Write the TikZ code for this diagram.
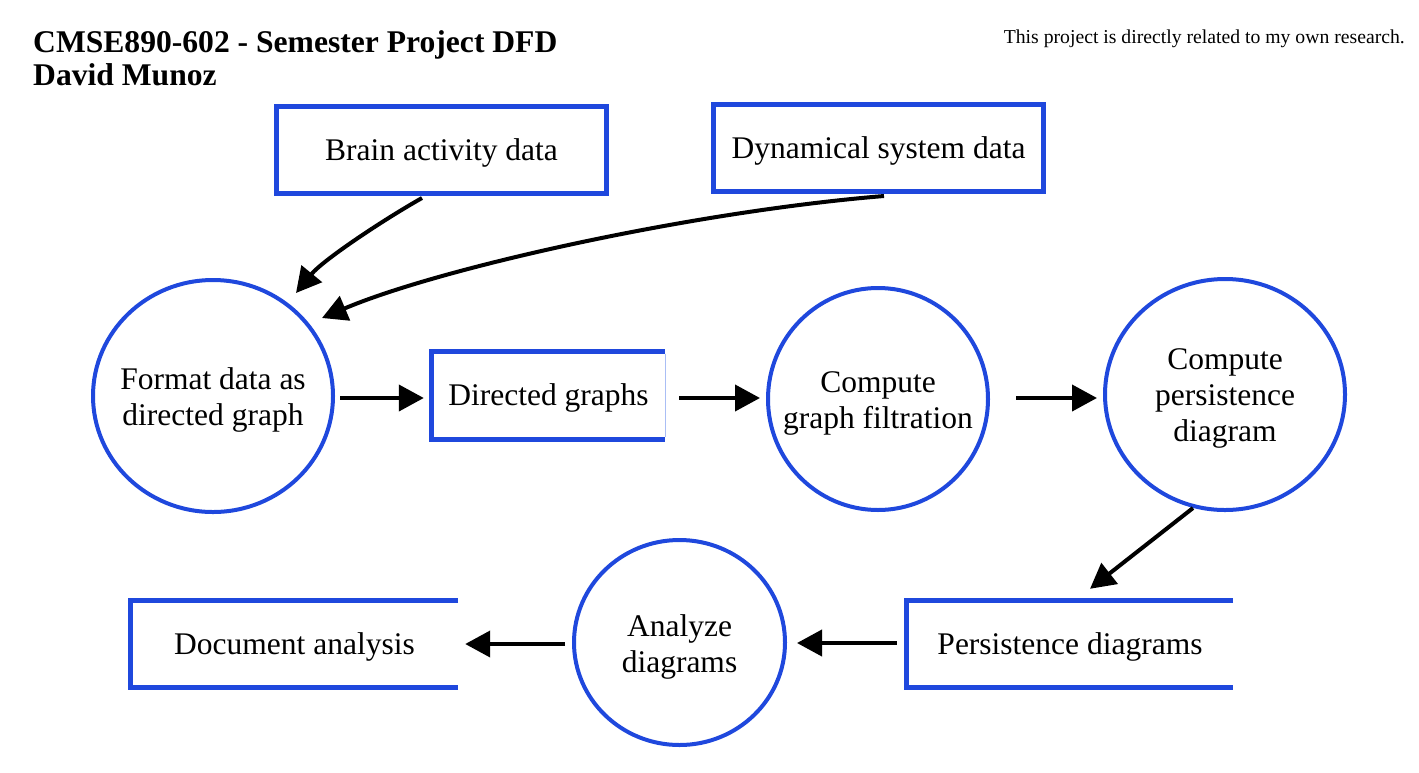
\documentclass[tikz,border=0pt]{standalone}
\usepackage{fontspec}
\setmainfont{Liberation Serif}
\usetikzlibrary{arrows.meta,shapes.geometric}
\definecolor{dfdblue}{RGB}{31,72,221}
\definecolor{lightblue}{RGB}{170,190,245}
\tikzset{
  txt/.style={font=\fontsize{31.5}{36}\selectfont, align=center, text=black},
  store/.style={txt, draw=dfdblue, line width=5pt, rectangle, inner sep=0pt, text height=27.5pt, text depth=6.8pt},
  openstore/.style={txt, rectangle, inner sep=0pt, text height=27.5pt, text depth=6.8pt},
  proc/.style={draw=dfdblue, line width=4pt, ellipse, inner sep=0pt, outer sep=0pt},
  proctext/.style={txt, inner sep=0pt, yshift=-4pt},
  flow/.style={line width=4pt, -{Triangle[length=25pt,width=26pt]}},
}
\begin{document}
\begin{tikzpicture}[x=1pt,y=-1pt]
\useasboundingbox (0,0) rectangle (1419,772);
\fill[white] (0,0) rectangle (1419,772);

% titles
\node[anchor=base west, inner sep=0pt, font=\fontsize{31.6}{36}\selectfont\bfseries] (t1) at (33,52) {CMSE890-602 - Semester Project DFD};
\node[anchor=base west, inner sep=0pt, font=\fontsize{31.6}{36}\selectfont\bfseries] (t2) at (33,85) {David Munoz};
\node[anchor=base east, inner sep=0pt, font=\fontsize{19.7}{24}\selectfont] (note) at (1405,43) {This project is directly related to my own research.};

% external stores
\node[store, minimum width=330pt, minimum height=87pt] (brain) at (441.5,150) {Brain activity data};
\node[store, minimum width=330pt, minimum height=87pt] (dyn) at (878.5,148) {Dynamical system data};

% processes
\node[proc, minimum width=240pt, minimum height=232pt] (fmt) at (213,396) {};
\node[proctext] (fmtt) at (fmt.center) {Format data as\\directed graph};
\node[proc, minimum width=220pt, minimum height=222pt] (filt) at (878,399) {};
\node[proctext] (filtt) at (filt.center) {Compute\\graph filtration};
\node[proc, minimum width=240pt, minimum height=231pt] (pers) at (1225,394.5) {};
\node[proctext] (perst) at (pers.center) {Compute\\persistence\\diagram};
\node[proc, minimum width=211pt, minimum height=205pt] (ana) at (679.5,642.5) {};
\node[proctext] (anat) at (ana.center) {Analyze\\diagrams};

% data stores (open on the right)
\node[openstore, minimum width=233pt, minimum height=88pt] (dg) at (548.5,395.5) {Directed graphs};
\draw[dfdblue, line width=5pt] (dg.north east) -- (dg.north west) -- (dg.south west) -- (dg.south east);
\draw[lightblue, line width=1pt] ([yshift=-2.5pt]dg.north east) -- ([yshift=2.5pt]dg.south east);

\node[openstore, minimum width=327pt, minimum height=87pt] (doc) at (294.5,644) {Document analysis};
\draw[dfdblue, line width=5pt] (doc.north east) -- (doc.north west) -- (doc.south west) -- (doc.south east);

\node[openstore, minimum width=326pt, minimum height=87pt] (pd) at (1070,644) {Persistence diagrams};
\draw[dfdblue, line width=5pt] (pd.north east) -- (pd.north west) -- (pd.south west) -- (pd.south east);

% connector end points
\coordinate (bs) at (422,198);
\coordinate (be) at (296,293);
\coordinate (ds) at (884,196);
\coordinate (de) at (322,318);

% flows
\draw[flow] (bs) .. controls (383,220) and (323,260) .. (be);
\draw[flow] (ds) .. controls (690,212) and (440,268) .. (de);
\draw[flow] ([xshift=7pt]fmt.east |- 0,398) -- ([xshift=-8pt]dg.west |- 0,398);
\draw[flow] ([xshift=14pt]dg.east |- 0,398) -- ([xshift=-8pt]filt.west |- 0,398);
\draw[flow] ([xshift=28pt]filt.east |- 0,398) -- ([xshift=-8pt]pers.west |- 0,398);
\draw[flow] ([xshift=-32pt,yshift=2pt]pers.south) -- ([xshift=20pt,yshift=11.5pt]pd.north);
\draw[flow] ([xshift=-10pt]pd.west |- 0,643) -- ([xshift=12pt]ana.east |- 0,643);
\draw[flow] ([xshift=-9pt]ana.west |- 0,644) -- ([xshift=7pt]doc.east |- 0,644);
\end{tikzpicture}
\end{document}
